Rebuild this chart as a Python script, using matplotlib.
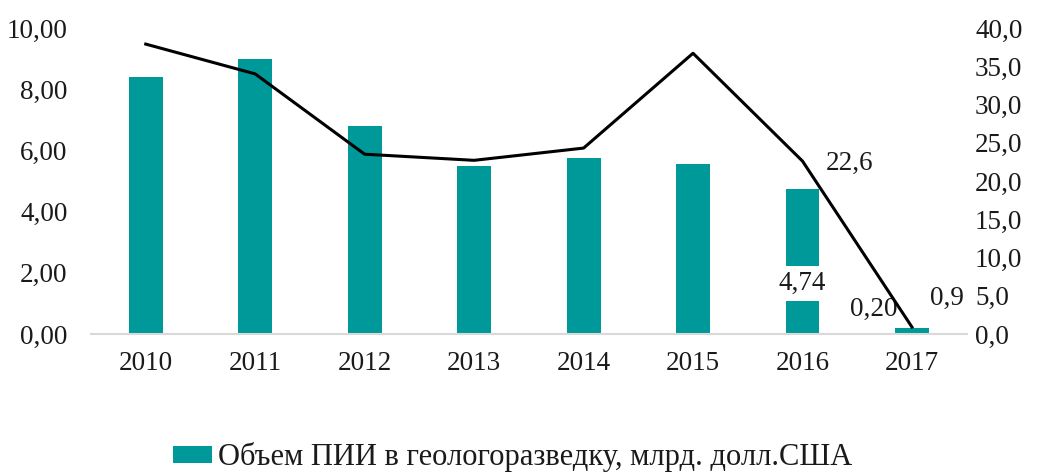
import numpy as np
import matplotlib.pyplot as plt

plt.rcParams['font.family'] = ['Liberation Serif', 'DejaVu Serif']

years = ['2010', '2011', '2012', '2013', '2014', '2015', '2016', '2017']
fdi_volume = [8.40, 8.99, 6.80, 5.49, 5.75, 5.56, 4.74, 0.20]
fdi_share = [37.9, 34.0, 23.5, 22.7, 24.3, 36.7, 22.6, 0.9]

bar_color = '#009999'
x = np.arange(len(years))

fig = plt.figure(figsize=(10.4, 4.75), dpi=100)
ax = fig.add_axes([0.0875, 0.297, 0.842, 0.644])
ax2 = ax.twinx()

ax.bar(x, fdi_volume, width=0.31, color=bar_color, zorder=2,
       label='Объем ПИИ в геологоразведку, млрд. долл.США')
ax2.plot(x, fdi_share, color='black', linewidth=2.2, zorder=3)

ax.set_xlim(-0.5, 7.5)
ax.set_ylim(0, 10)
ax2.set_ylim(0, 40)
ax.set_yticks(np.arange(0, 10.1, 2))
ax.set_yticklabels([f'{v:.2f}'.replace('.', ',') for v in np.arange(0, 10.1, 2)])
ax2.set_yticks(np.arange(0, 40.1, 5))
ax2.set_yticklabels([f'{v:.1f}'.replace('.', ',') for v in np.arange(0, 40.1, 5)])
ax.set_xticks(x)
ax.set_xticklabels(years)

for a in (ax, ax2):
    for s in a.spines.values():
        s.set_visible(False)
    a.tick_params(length=0, labelsize=19.5, colors='#1a1a1a')
ax.spines['bottom'].set_visible(True)
ax.spines['bottom'].set_color('#d9d9d9')
ax.spines['bottom'].set_linewidth(1.5)
ax.tick_params(axis='x', pad=12)
ax.tick_params(axis='y', pad=17)
ax2.tick_params(axis='y', pad=6)

# data labels
ax.text(x[6], fdi_volume[6] - 3.1, '4,74', ha='center', va='center', fontsize=19.5,
        color='#1a1a1a', zorder=4,
        bbox=dict(facecolor='white', edgecolor='none', pad=3.5))
ax.text(x[7] - 0.35, fdi_volume[7] + 0.6, '0,20', ha='center', va='center',
        fontsize=19.5, color='#1a1a1a', zorder=4)
ax2.text(x[6] + 0.43, fdi_share[6] - 0.3, '22,6', ha='center', va='center',
         fontsize=19.5, color='#1a1a1a')
ax2.text(x[7] + 0.32, fdi_share[7] + 3.7, '0,9', ha='center', va='center',
         fontsize=19.5, color='#1a1a1a')

fig.legend(loc='lower center', bbox_to_anchor=(0.493, -0.052), frameon=False,
           fontsize=22, handlelength=1.25, handleheight=0.5, handletextpad=0.2,
           labelcolor='#1a1a1a')

fig.savefig('out.png', dpi=100)
